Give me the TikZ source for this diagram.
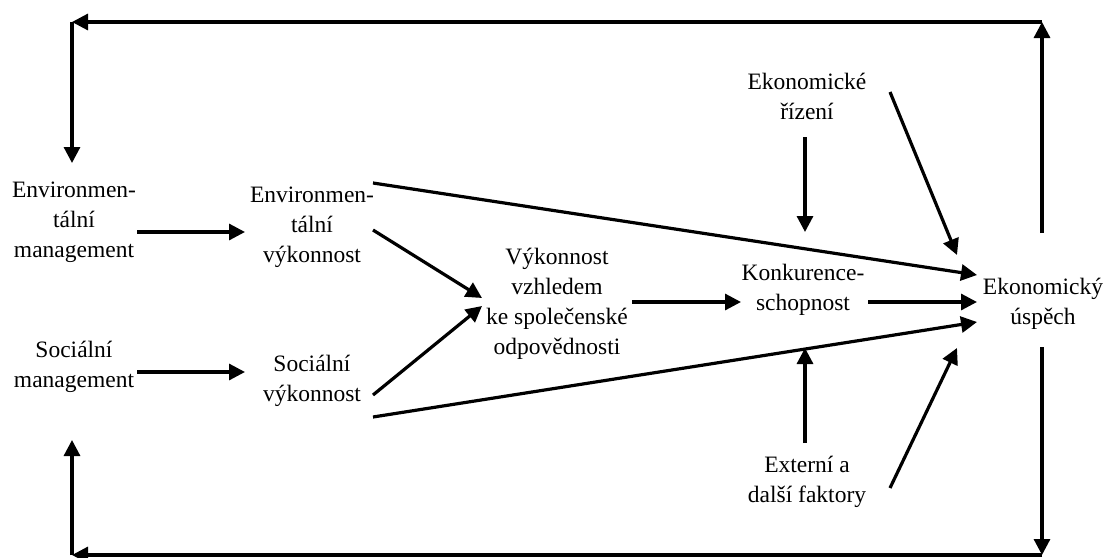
\documentclass[tikz,border=0pt]{standalone}
\usepackage{fontspec}
\setmainfont{Liberation Serif}
\usetikzlibrary{arrows.meta,calc}
\begin{document}
\begin{tikzpicture}[x=1pt,y=-1pt,
  lbl/.style={align=center,inner sep=0pt,font=\fontsize{23.5}{30}\selectfont},
  arr/.style={line width=3.2pt,-{Triangle[length=16pt,width=16pt]}},
  ln/.style={line width=3.2pt}]
\useasboundingbox (0,0) rectangle (1108,557);
% concepts
\node[lbl] (em) at (74,222) {Environmen-\\tální\\management};
\node[lbl] (ep) at (312,227) {Environmen-\\tální\\výkonnost};
\node[lbl] (sm) at (74,367) {Sociální\\management};
\node[lbl] (sp) at (312,381) {Sociální\\výkonnost};
\node[lbl] (vk) at (557,304) {Výkonnost\\vzhledem\\ke společenské\\odpovědnosti};
\node[lbl] (ks) at (803,290) {Konkurence-\\schopnost};
\node[lbl] (er) at (807,96) {Ekonomické\\řízení};
\node[lbl] (eu) at (1043,304) {Ekonomický\\úspěch};
\node[lbl] (ef) at (807,482) {Externí a\\další faktory};
% feedback loop corners
\coordinate (tr) at ($(eu)+(-1,-282)$);
\coordinate (tl) at ($(em)+(-2,-200)$);
\coordinate (br) at ($(eu)+(-1,251)$);
\coordinate (bl) at ($(sm)+(-2,188)$);
% main flow
\draw[arr] ($(em)+(63,10)$) -- ($(ep)+(-67,5)$);
\draw[arr] ($(sm)+(63,5)$) -- ($(sp)+(-67,-9)$);
\draw[arr] ($(ep)+(61,3)$) -- ($(vk)+(-75,-6)$);
\draw[arr] ($(sp)+(61,14)$) -- ($(vk)+(-75,2)$);
\draw[arr] ($(ep)+(61,-44)$) -- ($(eu)+(-66,-29)$);
\draw[arr] ($(sp)+(61,36)$) -- ($(eu)+(-66,18)$);
\draw[arr] ($(vk)+(75,-2)$) -- ($(ks)+(-62,12)$);
\draw[arr] ($(ks)+(65,12)$) -- ($(eu)+(-66,-2)$);
% influences
\draw[arr] ($(er)+(-2,41)$) -- ($(ks)+(2,-58)$);
\draw[arr] ($(er)+(83,-4)$) -- ($(eu)+(-86,-49)$);
\draw[arr] ($(ef)+(-2,-39)$) -- ($(ks)+(2,58)$);
\draw[arr] ($(ef)+(83,6)$) -- ($(eu)+(-86,44)$);
% feedback loops
\draw[arr] ($(eu)+(-1,-71)$) -- (tr);
\draw[arr] (tr) -- (tl);
\draw[arr] (tl) -- ($(em)+(-2,-59)$);
\draw[arr] ($(eu)+(-1,43)$) -- (br);
\draw[arr] (br) -- (bl);
\draw[arr] (bl) -- ($(sm)+(-2,73)$);
\end{tikzpicture}
\end{document}
